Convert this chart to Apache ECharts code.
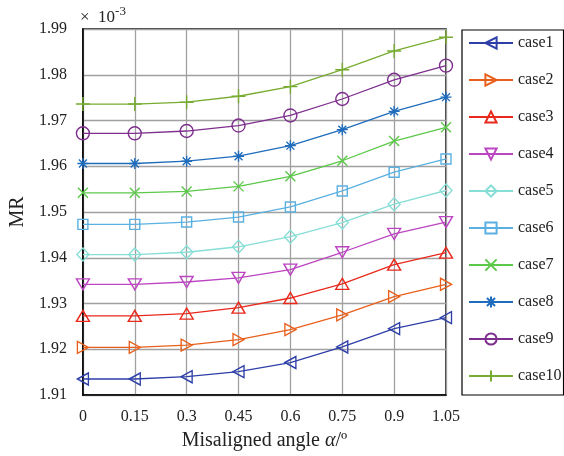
<!DOCTYPE html>
<html>
<head>
<meta charset="utf-8">
<script src="https://cdn.jsdelivr.net/npm/echarts@6/dist/echarts.min.js"></script>
<style>
  html, body { margin: 0; padding: 0; background: #fff; }
  #chart { width: 564px; height: 456px; }
</style>
</head>
<body>
<div id="chart"></div>
<script>
// Misalignment angle (degrees)
const angles = [0, 0.15, 0.3, 0.45, 0.6, 0.75, 0.9, 1.05];

// MR values, in units of 1e-3
const case1  = [1.9135, 1.9135, 1.9140, 1.9151, 1.9171, 1.9205, 1.9245, 1.9269];
const case2  = [1.9204, 1.9204, 1.9209, 1.9221, 1.9243, 1.9275, 1.9315, 1.9342];
const case3  = [1.9273, 1.9273, 1.9278, 1.9291, 1.9312, 1.9343, 1.9385, 1.9411];
const case4  = [1.9342, 1.9342, 1.9347, 1.9356, 1.9374, 1.9412, 1.9452, 1.9478];
const case5  = [1.9407, 1.9407, 1.9412, 1.9424, 1.9446, 1.9477, 1.9517, 1.9547];
const case6  = [1.9473, 1.9473, 1.9478, 1.9489, 1.9511, 1.9546, 1.9587, 1.9616];
const case7  = [1.9542, 1.9542, 1.9545, 1.9556, 1.9578, 1.9612, 1.9655, 1.9685];
const case8  = [1.9606, 1.9606, 1.9611, 1.9622, 1.9645, 1.9680, 1.9720, 1.9751];
const case9  = [1.9672, 1.9672, 1.9677, 1.9689, 1.9711, 1.9747, 1.9789, 1.9820];
const case10 = [1.9736, 1.9736, 1.9740, 1.9753, 1.9774, 1.9811, 1.9852, 1.9882];

const seriesNames = ['case1','case2','case3','case4','case5','case6','case7','case8','case9','case10'];
const seriesValues = [case1, case2, case3, case4, case5, case6, case7, case8, case9, case10];

const colors = ['#2E3FA8', '#E8601C', '#E8291C', '#BC45C2', '#86DED6',
                '#5AB0E0', '#5CC84A', '#1F6CBC', '#7E2F8E', '#77AC30'];

const PLUS = 'path://M0,-1L0,1M-1,0L1,0';
const CROSS = 'path://M-1,-1L1,1M-1,1L1,-1';
const STAR = 'path://M0,-1L0,1M-1,0L1,0M-0.72,-0.72L0.72,0.72M-0.72,0.72L0.72,-0.72';

const markers = [
  { symbol: 'triangle', size: [12, 11], rotate: 90 },
  { symbol: 'triangle', size: [12, 11], rotate: -90 },
  { symbol: 'triangle', size: [13, 11], rotate: 0 },
  { symbol: 'triangle', size: [13, 11], rotate: 180 },
  { symbol: 'diamond', size: [12, 13], rotate: 0 },
  { symbol: 'rect', size: [10, 10], rotate: 0 },
  { symbol: CROSS, size: [10, 10], rotate: 0 },
  { symbol: STAR, size: [11, 11], rotate: 0 },
  { symbol: 'circle', size: [13, 13], rotate: 0 },
  { symbol: PLUS, size: [14, 14], rotate: 0 }
];

const FONT = '"Liberation Serif", "Times New Roman", serif';

const series = seriesNames.map((name, i) => ({
  name: name,
  type: 'line',
  data: angles.map((a, k) => [a, seriesValues[i][k]]),
  symbol: markers[i].symbol,
  symbolSize: markers[i].size,
  symbolRotate: markers[i].rotate,
  showAllSymbol: true,
  lineStyle: { color: colors[i], width: 1.3 },
  itemStyle: { color: 'rgba(255,255,255,0)', borderColor: colors[i], borderWidth: 1.4 },
  emphasis: { disabled: true },
  z: 3
}));

const chart = echarts.init(document.getElementById('chart'), null, { renderer: 'canvas' });
chart.setOption({
  animation: false,
  backgroundColor: '#fff',
  grid: {
    left: 78, right: 118, top: 29, bottom: 54,
    show: true, borderColor: '#000', borderWidth: 1.5, backgroundColor: 'transparent'
  },
  xAxis: {
    type: 'value',
    min: 0, max: 1.05, interval: 0.15,
    name: '{n|Misaligned angle }{a|α}{n|/º}',
    nameLocation: 'middle',
    nameGap: 36,
    nameTextStyle: {
      rich: {
        n: { fontFamily: FONT, fontSize: 20, color: '#222' },
        a: { fontFamily: FONT, fontSize: 20, fontStyle: 'italic', color: '#222' }
      }
    },
    axisLine: { show: true, lineStyle: { color: '#000', width: 1.5 } },
    axisTick: { show: false },
    axisLabel: {
      fontFamily: FONT, fontSize: 16, color: '#222', margin: 14,
      formatter: v => String(+v.toFixed(2))
    },
    splitLine: { show: true, lineStyle: { color: '#a0a0a0', width: 1.3 } }
  },
  yAxis: {
    type: 'value',
    min: 1.91, max: 1.99, interval: 0.01,
    name: 'MR',
    nameLocation: 'middle',
    nameGap: 51,
    nameTextStyle: { fontFamily: FONT, fontSize: 20, color: '#222' },
    axisLine: { show: true, lineStyle: { color: '#000', width: 1.5 } },
    axisTick: { show: false },
    axisLabel: {
      fontFamily: FONT, fontSize: 16, color: '#222', margin: 16,
      formatter: v => v.toFixed(2)
    },
    splitLine: { show: true, lineStyle: { color: '#a0a0a0', width: 1.3 } }
  },
  legend: {
    data: seriesNames,
    orient: 'vertical',
    left: 462, top: 30,
    padding: [5, 2, 11, 6],
    itemWidth: 44, itemHeight: 14, itemGap: 21,
    borderColor: '#000', borderWidth: 1.2,
    backgroundColor: '#fff',
    textStyle: { fontFamily: FONT, fontSize: 16, color: '#222' },
    selectedMode: false
  },
  graphic: [{
    type: 'text',
    left: 80, top: 5,
    style: {
      text: '{t|×  10}{s|-3}',
      rich: {
        t: { fontFamily: FONT, fontSize: 17, fill: '#222', verticalAlign: 'bottom' },
        s: { fontFamily: FONT, fontSize: 13, fill: '#222', verticalAlign: 'top', padding: [0, 0, 8, 0] }
      }
    }
  }],
  series: series
});
</script>
</body>
</html>
